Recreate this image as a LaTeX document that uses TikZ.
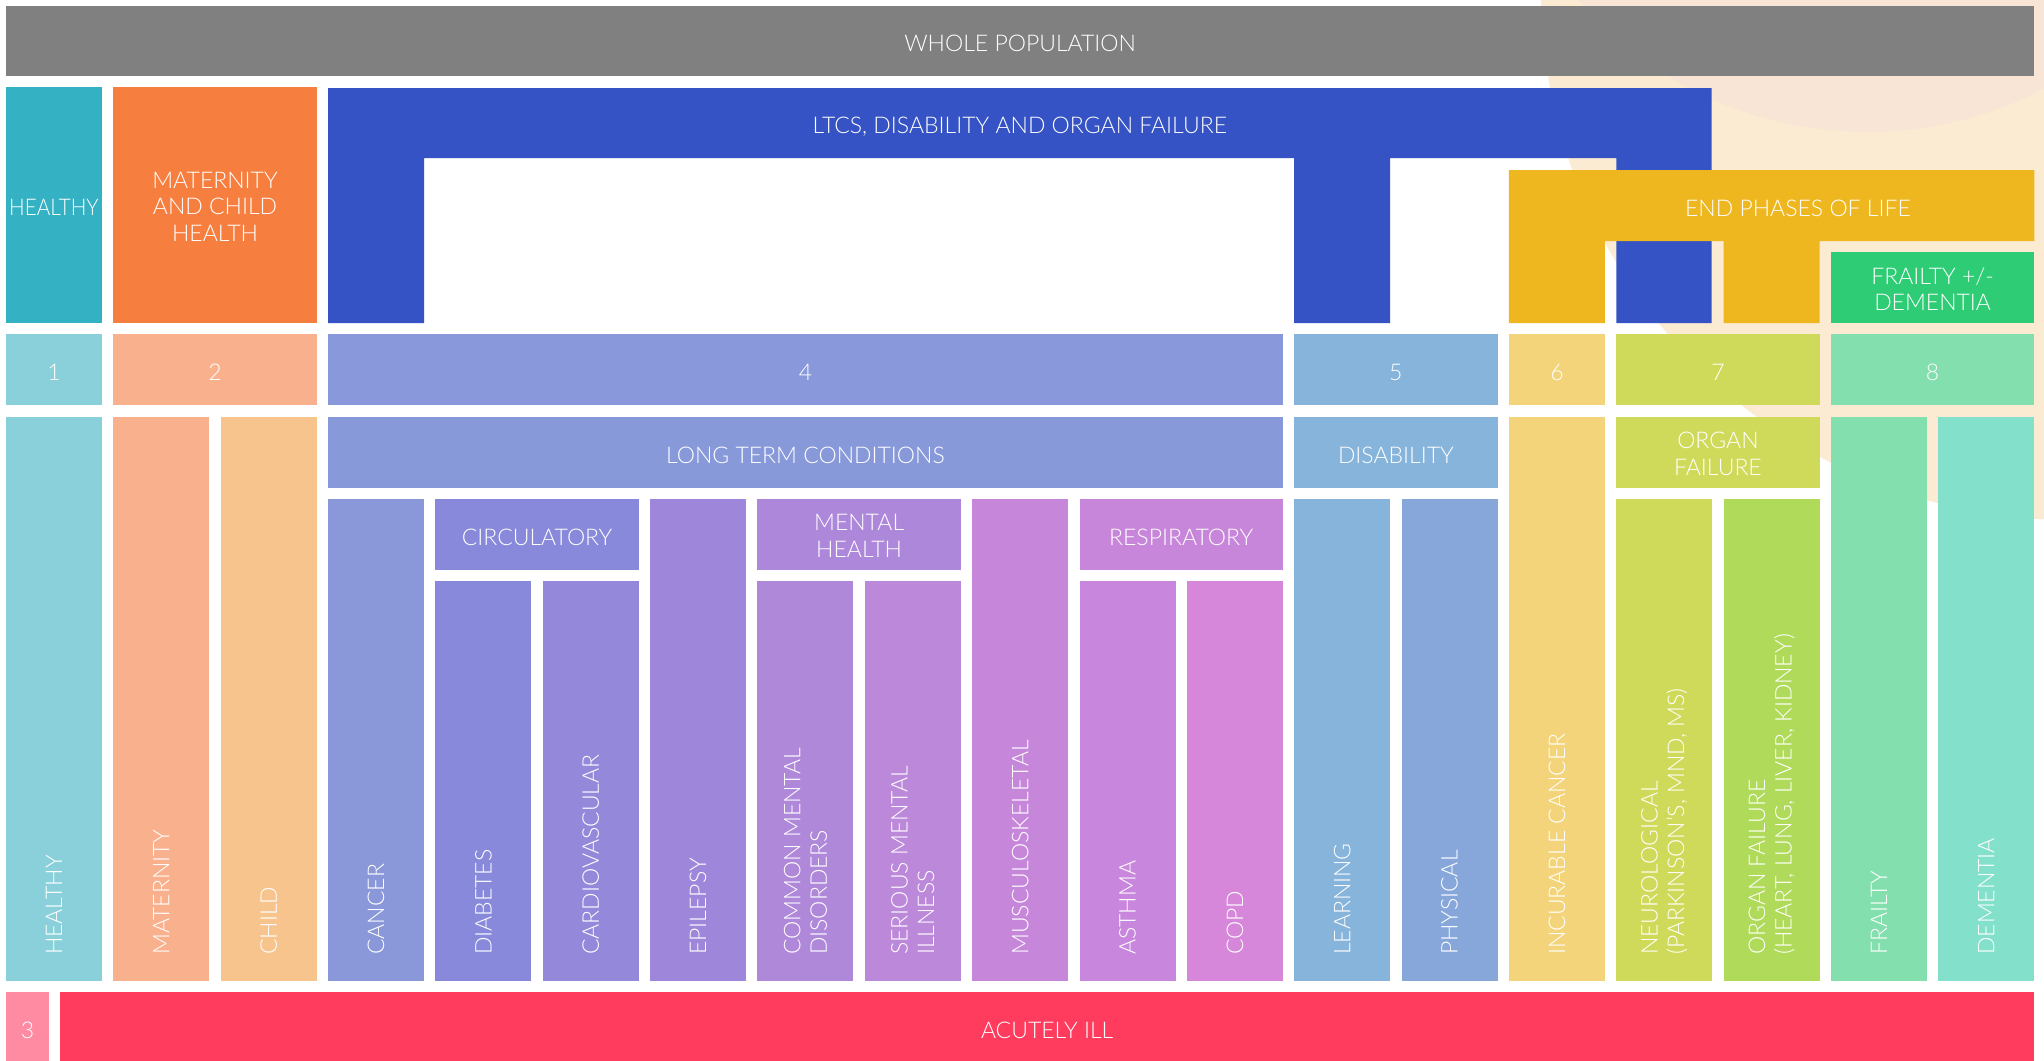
\documentclass[tikz,border=0pt]{standalone}
\usepackage{fontspec}
\setmainfont{Lato}[UprightFont=* Light]
\definecolor{cgray}{HTML}{808080}
\definecolor{chealthyA}{HTML}{35B1C4}
\definecolor{cmatA}{HTML}{F67F40}
\definecolor{cltcs}{HTML}{3553C4}
\definecolor{cend}{HTML}{EEB720}
\definecolor{cfrailA}{HTML}{2ECC75}
\definecolor{cnA}{HTML}{89D0DA}
\definecolor{cnB}{HTML}{F9B18D}
\definecolor{cnD}{HTML}{8898DA}
\definecolor{cnE}{HTML}{87B4DB}
\definecolor{cnF}{HTML}{F4D47B}
\definecolor{cnG}{HTML}{D0DA5A}
\definecolor{cnH}{HTML}{83E0AE}
\definecolor{cchild}{HTML}{F8C48E}
\definecolor{cltc}{HTML}{8899DA}
\definecolor{ccancer}{HTML}{8A98DA}
\definecolor{ccirc}{HTML}{8889DA}
\definecolor{ccardio}{HTML}{9388DA}
\definecolor{cepil}{HTML}{9E86DA}
\definecolor{cmental}{HTML}{AD87DA}
\definecolor{ccmd}{HTML}{AF88DA}
\definecolor{csmi}{HTML}{BC88DA}
\definecolor{cmusc}{HTML}{C687DA}
\definecolor{cresp}{HTML}{C886DA}
\definecolor{casthma}{HTML}{C887DC}
\definecolor{ccopd}{HTML}{D687DA}
\definecolor{cphys}{HTML}{87A7DB}
\definecolor{corgan}{HTML}{B0DA59}
\definecolor{cdement}{HTML}{82E0CB}
\definecolor{cthree}{HTML}{FF8BA3}
\definecolor{cacute}{HTML}{FF3B5E}
\definecolor{ccream}{HTML}{FBEBD3}
\definecolor{cpeach}{HTML}{F9E5D5}
\newcommand\cell[6]{%
  \pgfmathsetmacro\cellx{6+107.35*#2}%
  \pgfmathsetmacro\cellw{107.35*(#3-#2)+96}%
  \pgfmathsetmacro\cellh{#5-#4}%
  \node[cellbox, fill=#6, minimum width=\cellw pt, minimum height=\cellh pt] (#1) at (\cellx,#4) {};}
\tikzset{
  cellbox/.style={draw=none, inner sep=0pt, outer sep=0pt, anchor=north west, rectangle},
  txt/.style={text=white, inner sep=0pt, font=\fontsize{23}{26.5}\selectfont},
  hlabel/.style={txt, align=center, text height=16.5pt, text depth=0pt, yshift=-2.5pt},
  hlabelm/.style={txt, align=center, yshift=-1.5pt},
  vlabel/.style={txt, rotate=90, anchor=west, align=left},
}
\begin{document}
\begin{tikzpicture}[x=1pt, y=-1pt]
\clip (0,0) rectangle (2044,1060);
\useasboundingbox (0,0) rectangle (2044,1060);
\fill[white] (0,0) rectangle (2044,1060);
\fill[ccream] (2071,-10) circle[radius=530];
\fill[cpeach] (1867,-250) circle[radius=382];

% row 1
\node[cellbox, fill=cgray, minimum width=2028.3pt, minimum height=70pt] (whole) at (6,6) {};
\node[hlabel] at (whole) {WHOLE POPULATION};

% row 2
\cell{healthyA}{0}{0}{87}{323}{chealthyA}
\node[hlabel] at (healthyA) {\scalebox{0.9}[1]{HEALTHY}};
\cell{matA}{1}{2}{87}{323}{cmatA}
\node[hlabelm] at (matA) {MATERNITY\\AND CHILD\\HEALTH};

% LTCS shape
\fill[cltcs] (328.05,88) -- (1711.6,88) -- (1711.6,323) -- (1616.25,323) -- (1616.25,158)
  -- (1390.2,158) -- (1390.2,323) -- (1294.2,323) -- (1294.2,158)
  -- (424.05,158) -- (424.05,323) -- (328.05,323) -- cycle;
\coordinate (ltcsmid) at (1019.8,123);
\node[hlabel] (ltcs) at (ltcsmid) {LTCS, DISABILITY AND ORGAN FAILURE};

% End phases shape
\fill[cend] (1508.9,170) -- (2034.3,170) -- (2034.3,241) -- (1819.6,241) -- (1819.6,323)
  -- (1723.6,323) -- (1723.6,241) -- (1604.9,241) -- (1604.9,323) -- (1508.9,323) -- cycle;
\coordinate (endmid) at (1798,205.5);
\node[hlabel] (endph) at (endmid) {END PHASES OF LIFE};

\cell{frailA}{17}{18}{252}{323}{cfrailA}
\node[hlabelm] at (frailA) {FRAILTY +/-\\DEMENTIA};

% numbers row
\cell{nA}{0}{0}{334}{405}{cnA}   \node[hlabel] at (nA) {1};
\cell{nB}{1}{2}{334}{405}{cnB}   \node[hlabel] at (nB) {2};
\cell{nD}{3}{11}{334}{405}{cnD}  \node[hlabel] at (nD) {4};
\cell{nE}{12}{13}{334}{405}{cnE} \node[hlabel] at (nE) {5};
\cell{nF}{14}{14}{334}{405}{cnF} \node[hlabel] at (nF) {6};
\cell{nG}{15}{16}{334}{405}{cnG} \node[hlabel] at (nG) {7};
\cell{nH}{17}{18}{334}{405}{cnH} \node[hlabel] at (nH) {8};

% group headers
\cell{ltc}{3}{11}{417}{488}{cltc}       \node[hlabel] at (ltc) {LONG TERM CONDITIONS};
\cell{disab}{12}{13}{417}{488}{cnE}     \node[hlabel] at (disab) {DISABILITY};
\cell{orgh}{15}{16}{417}{488}{cnG}      \node[hlabelm] at (orgh) {ORGAN\\FAILURE};
\cell{circ}{4}{5}{499}{570}{ccirc}      \node[hlabel] at (circ) {CIRCULATORY};
\cell{mental}{7}{8}{499}{570}{cmental}  \node[hlabelm] at (mental) {MENTAL\\HEALTH};
\cell{resp}{10}{11}{499}{570}{cresp}    \node[hlabel] at (resp) {RESPIRATORY};

% columns
\cell{healthy}{0}{0}{417}{981}{cnA}
\cell{mat}{1}{1}{417}{981}{cnB}
\cell{child}{2}{2}{417}{981}{cchild}
\cell{cancer}{3}{3}{499}{981}{ccancer}
\cell{diab}{4}{4}{581}{981}{ccirc}
\cell{cardio}{5}{5}{581}{981}{ccardio}
\cell{epil}{6}{6}{499}{981}{cepil}
\cell{cmd}{7}{7}{581}{981}{ccmd}
\cell{smi}{8}{8}{581}{981}{csmi}
\cell{musc}{9}{9}{499}{981}{cmusc}
\cell{asthma}{10}{10}{581}{981}{casthma}
\cell{copd}{11}{11}{581}{981}{ccopd}
\cell{learn}{12}{12}{499}{981}{cnE}
\cell{phys}{13}{13}{499}{981}{cphys}
\cell{incur}{14}{14}{417}{981}{cnF}
\cell{neuro}{15}{15}{499}{981}{cnG}
\cell{organ}{16}{16}{499}{981}{corgan}
\cell{frail}{17}{17}{417}{981}{cnH}
\cell{dement}{18}{18}{417}{981}{cdement}

\node[vlabel] at ([yshift=26pt]healthy.south) {HEALTHY};
\node[vlabel] at ([yshift=26pt]mat.south) {MATERNITY};
\node[vlabel] at ([yshift=26pt]child.south) {CHILD};
\node[vlabel] at ([yshift=26pt]cancer.south) {CANCER};
\node[vlabel] at ([yshift=26pt]diab.south) {DIABETES};
\node[vlabel] at ([yshift=26pt]cardio.south) {CARDIOVASCULAR};
\node[vlabel] at ([yshift=26pt]epil.south) {EPILEPSY};
\node[vlabel] at ([yshift=26pt]cmd.south) {COMMON MENTAL\\DISORDERS};
\node[vlabel] at ([yshift=26pt]smi.south) {SERIOUS MENTAL\\ILLNESS};
\node[vlabel] at ([yshift=26pt]musc.south) {MUSCULOSKELETAL};
\node[vlabel] at ([yshift=26pt]asthma.south) {ASTHMA};
\node[vlabel] at ([yshift=26pt]copd.south) {COPD};
\node[vlabel] at ([yshift=26pt]learn.south) {LEARNING};
\node[vlabel] at ([yshift=26pt]phys.south) {PHYSICAL};
\node[vlabel] at ([yshift=26pt]incur.south) {INCURABLE CANCER};
\node[vlabel] at ([yshift=26pt]neuro.south) {NEUROLOGICAL\\(PARKINSON’S, MND, MS)};
\node[vlabel] at ([yshift=26pt]organ.south) {ORGAN FAILURE\\(HEART, LUNG, LIVER, KIDNEY)};
\node[vlabel] at ([yshift=26pt]frail.south) {FRAILTY};
\node[vlabel] at ([yshift=26pt]dement.south) {DEMENTIA};

% bottom row
\node[cellbox, fill=cthree, minimum width=43pt, minimum height=76pt] (three) at (6,992) {};
\node[hlabel, yshift=2.5pt] at (three) {3};
\node[cellbox, fill=cacute, minimum width=1974.3pt, minimum height=76pt] (acute) at (60,992) {};
\node[hlabel, yshift=2.5pt] at (acute) {ACUTELY ILL};
\end{tikzpicture}
\end{document}
